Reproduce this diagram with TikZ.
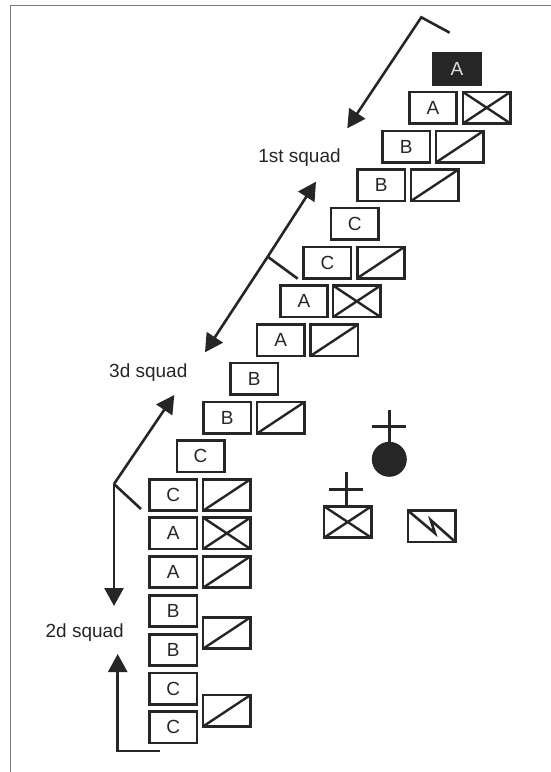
\documentclass[tikz,border=0pt]{standalone}
\usepackage{fontspec}
\setmainfont{Liberation Sans}
\usetikzlibrary{arrows.meta}
\definecolor{ink}{HTML}{262626}
\definecolor{frameline}{HTML}{7A7A7A}
\tikzset{
  unitbox/.style={draw=ink,line width=2.6pt,rectangle,inner sep=0pt,outer sep=0pt,minimum width=47.4pt,minimum height=31.4pt,text=ink,font=\fontsize{19}{19}\selectfont},
  slashbox/.style={unitbox,path picture={\draw[ink,line width=2.4pt] (path picture bounding box.south west)--(path picture bounding box.north east);}},
  crossbox/.style={slashbox,path picture={\draw[ink,line width=2.4pt] (path picture bounding box.south west)--(path picture bounding box.north east) (path picture bounding box.north west)--(path picture bounding box.south east);}},
  blackbox/.style={unitbox,fill=ink,text=white!85!black},
  squadlabel/.style={text=ink,inner sep=0pt,font=\fontsize{19}{19}\selectfont},
  conn/.style={draw=ink,line width=2.6pt,line join=miter},
  arrowed/.style={conn,-{Triangle[length=18pt,width=19pt]}},
}
\begin{document}
\begin{tikzpicture}[x=1pt,y=-1pt]
\useasboundingbox (0,0) rectangle (551,772);
% frame
\coordinate (fa) at (551,5.5);
\coordinate (fb) at (10.5,5.5);
\coordinate (fc) at (10.5,772);
\draw[frameline,line width=1.2pt] (fa)--(fb)--(fc);
% boxes
\node[blackbox] (a0) at (457,69) {A};
\node[unitbox] (a1) at (433,107.7) {A};
\node[crossbox] (a1v) at (486.7,107.7) {};
\node[unitbox] (b1) at (406.2,146.7) {B};
\node[slashbox] (b1v) at (459.7,146.7) {};
\node[unitbox] (b2) at (381.2,185.3) {B};
\node[slashbox] (b2v) at (434.7,185.3) {};
\node[unitbox] (c1) at (354.8,223.8) {C};
\node[unitbox] (c2) at (327.4,262.5) {C};
\node[slashbox] (c2v) at (380.9,262.5) {};
\node[unitbox] (a2) at (304,301.3) {A};
\node[crossbox] (a2v) at (356.8,301.3) {};
\node[unitbox] (a3) at (280.8,340.2) {A};
\node[slashbox] (a3v) at (334.3,340.2) {};
\node[unitbox] (b3) at (254.2,378.8) {B};
\node[unitbox] (b4) at (227.2,417.7) {B};
\node[slashbox] (b4v) at (280.8,417.7) {};
\node[unitbox] (c3) at (200.5,456.2) {C};
\node[unitbox] (c4) at (173.3,495) {C};
\node[slashbox] (c4v) at (226.8,495) {};
\node[unitbox] (a4) at (173.3,533.3) {A};
\node[crossbox] (a4v) at (226.8,533.3) {};
\node[unitbox] (a5) at (173.3,572) {A};
\node[slashbox] (a5v) at (226.8,572) {};
\node[unitbox] (b5) at (173.3,611) {B};
\node[unitbox] (b6) at (173.3,650) {B};
\node[slashbox] (b6v) at (226.8,633) {};
\node[unitbox] (c5) at (173.3,688.5) {C};
\node[unitbox] (c6) at (173.3,727.3) {C};
\node[slashbox] (c6v) at (226.8,710.7) {};
% labels
\node[squadlabel] (l1) at (299.5,157.5) {1st squad};
\node[squadlabel] (l3) at (148.3,372.5) {3d squad};
\node[squadlabel] (l2) at (84.7,632.5) {2d squad};
% connectors
\coordinate (t0) at (449.7,32.7);
\coordinate (t1) at (421.3,17.3);
\coordinate (t2) at (347.3,128.3);
\draw[arrowed] (t0)--(t1)--(t2);
\coordinate (m0) at (297.7,278.7);
\coordinate (m1) at (267.7,256.7);
\coordinate (m2) at (316,181.7);
\coordinate (m3) at (205,352.3);
\draw[conn] (m0)--(m1);
\draw[arrowed] (m1)--(m2);
\draw[arrowed] (m1)--(m3);
\coordinate (n0) at (141,509);
\coordinate (n1) at (114,484);
\coordinate (n2) at (174.3,395);
\coordinate (n3) at (114,606);
\draw[conn] (n0)--(n1);
\draw[arrowed] (n1)--(n2);
\draw[arrowed] (n1)--(n3);
\coordinate (p0) at (160,751);
\coordinate (p1) at (117.7,751);
\coordinate (p2) at (117.7,654);
\draw[arrowed] (p0)--(p1)--(p2);
% symbols on the right
\node[circle,fill=ink,inner sep=0pt,outer sep=0pt,minimum size=35pt] (hq) at (389.3,459.3) {};
\coordinate (hqtop) at (389.3,410);
\coordinate (hqa) at (372,426.3);
\coordinate (hqb) at (406,426.3);
\draw[conn] (hqtop)--(hq.north) (hqa)--(hqb);
\node[crossbox] (mg) at (347.7,522) {};
\coordinate (mgtop) at (346.3,472.3);
\coordinate (mgbot) at (346.3,505);
\coordinate (mga) at (329.3,489.3);
\coordinate (mgb) at (363.3,489.3);
\draw[conn] (mgtop)--(mgbot) (mga)--(mgb);
\node[unitbox] (sig) at (431.7,526.3) {};
\coordinate (z0) at (sig.north west);
\coordinate (z1) at (435,533.3);
\coordinate (z2) at (430.7,520);
\coordinate (z3) at (sig.south east);
\draw[conn] (z0)--(z1)--(z2)--(z3);
\end{tikzpicture}
\end{document}
